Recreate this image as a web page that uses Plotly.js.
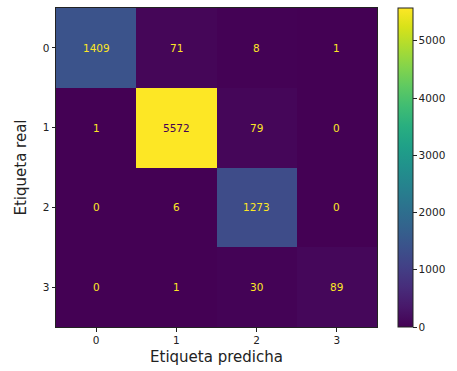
<!DOCTYPE html>
<html><head><meta charset="utf-8">
<script src="https://cdn.plot.ly/plotly-3.0.1.min.js"></script>
<style>html,body{margin:0;padding:0;background:#fff}#c{width:457px;height:371px}</style>
</head><body><div id="c"></div>
<script>
const labels = [0, 1, 2, 3];
const row0 = [1409, 71, 8, 1];
const row1 = [1, 5572, 79, 0];
const row2 = [0, 6, 1273, 0];
const row3 = [0, 1, 30, 89];
const matrix = [row0, row1, row2, row3];
const cbTicks = [0, 1000, 2000, 3000, 4000, 5000];

const zmax = Math.max(...matrix.flat());
const zmin = Math.min(...matrix.flat());
const thresh = (zmax + zmin) / 2;

const annotations = [];
matrix.forEach((row, i) => row.forEach((v, j) => {
  annotations.push({x: labels[j], y: labels[i], xref: 'x', yref: 'y', text: String(v),
    showarrow: false, font: {family: 'DejaVu Sans', size: 10.5, color: v > thresh ? '#440154' : '#fde725'}});
}));

const trace = {
  type: 'heatmap', z: matrix, x: labels, y: labels,
  colorscale: 'Viridis', zmin: 0, zmax: zmax, hoverinfo: 'skip',
  colorbar: {
    x: 1.065, xanchor: 'left', y: 0.5, yanchor: 'middle', len: 1, lenmode: 'fraction',
    thickness: 15, thicknessmode: 'pixels', xpad: 0, ypad: 0,
    outlinewidth: 1, outlinecolor: '#222',
    tickvals: cbTicks, ticks: 'outside', ticklen: 3.5, tickcolor: '#222',
    tickfont: {family: 'DejaVu Sans', size: 10.5, color: '#222'}
  }
};

const layout = {
  width: 457, height: 371,
  margin: {l: 56, r: 80, t: 8, b: 44},
  paper_bgcolor: '#fff', plot_bgcolor: '#fff',
  xaxis: {
    range: [-0.5, 3.5], tickvals: labels, ticks: 'outside', ticklen: 3.5, tickcolor: '#222',
    showline: true, mirror: true, linecolor: '#222', linewidth: 1, showgrid: false, zeroline: false,
    tickfont: {family: 'DejaVu Sans', size: 10.5, color: '#222'},
    title: {text: 'Etiqueta predicha', font: {family: 'DejaVu Sans', size: 15, color: '#222'}, standoff: 6}
  },
  yaxis: {
    range: [3.5, -0.5], tickvals: labels, ticks: 'outside', ticklen: 3.5, tickcolor: '#222',
    showline: true, mirror: true, linecolor: '#222', linewidth: 1, showgrid: false, zeroline: false,
    tickfont: {family: 'DejaVu Sans', size: 10.5, color: '#222'},
    title: {text: 'Etiqueta real', font: {family: 'DejaVu Sans', size: 15, color: '#222'}, standoff: 12}
  },
  annotations: annotations,
  showlegend: false
};

Plotly.newPlot('c', [trace], layout, {displayModeBar: false, staticPlot: true});
</script>
</body></html>
